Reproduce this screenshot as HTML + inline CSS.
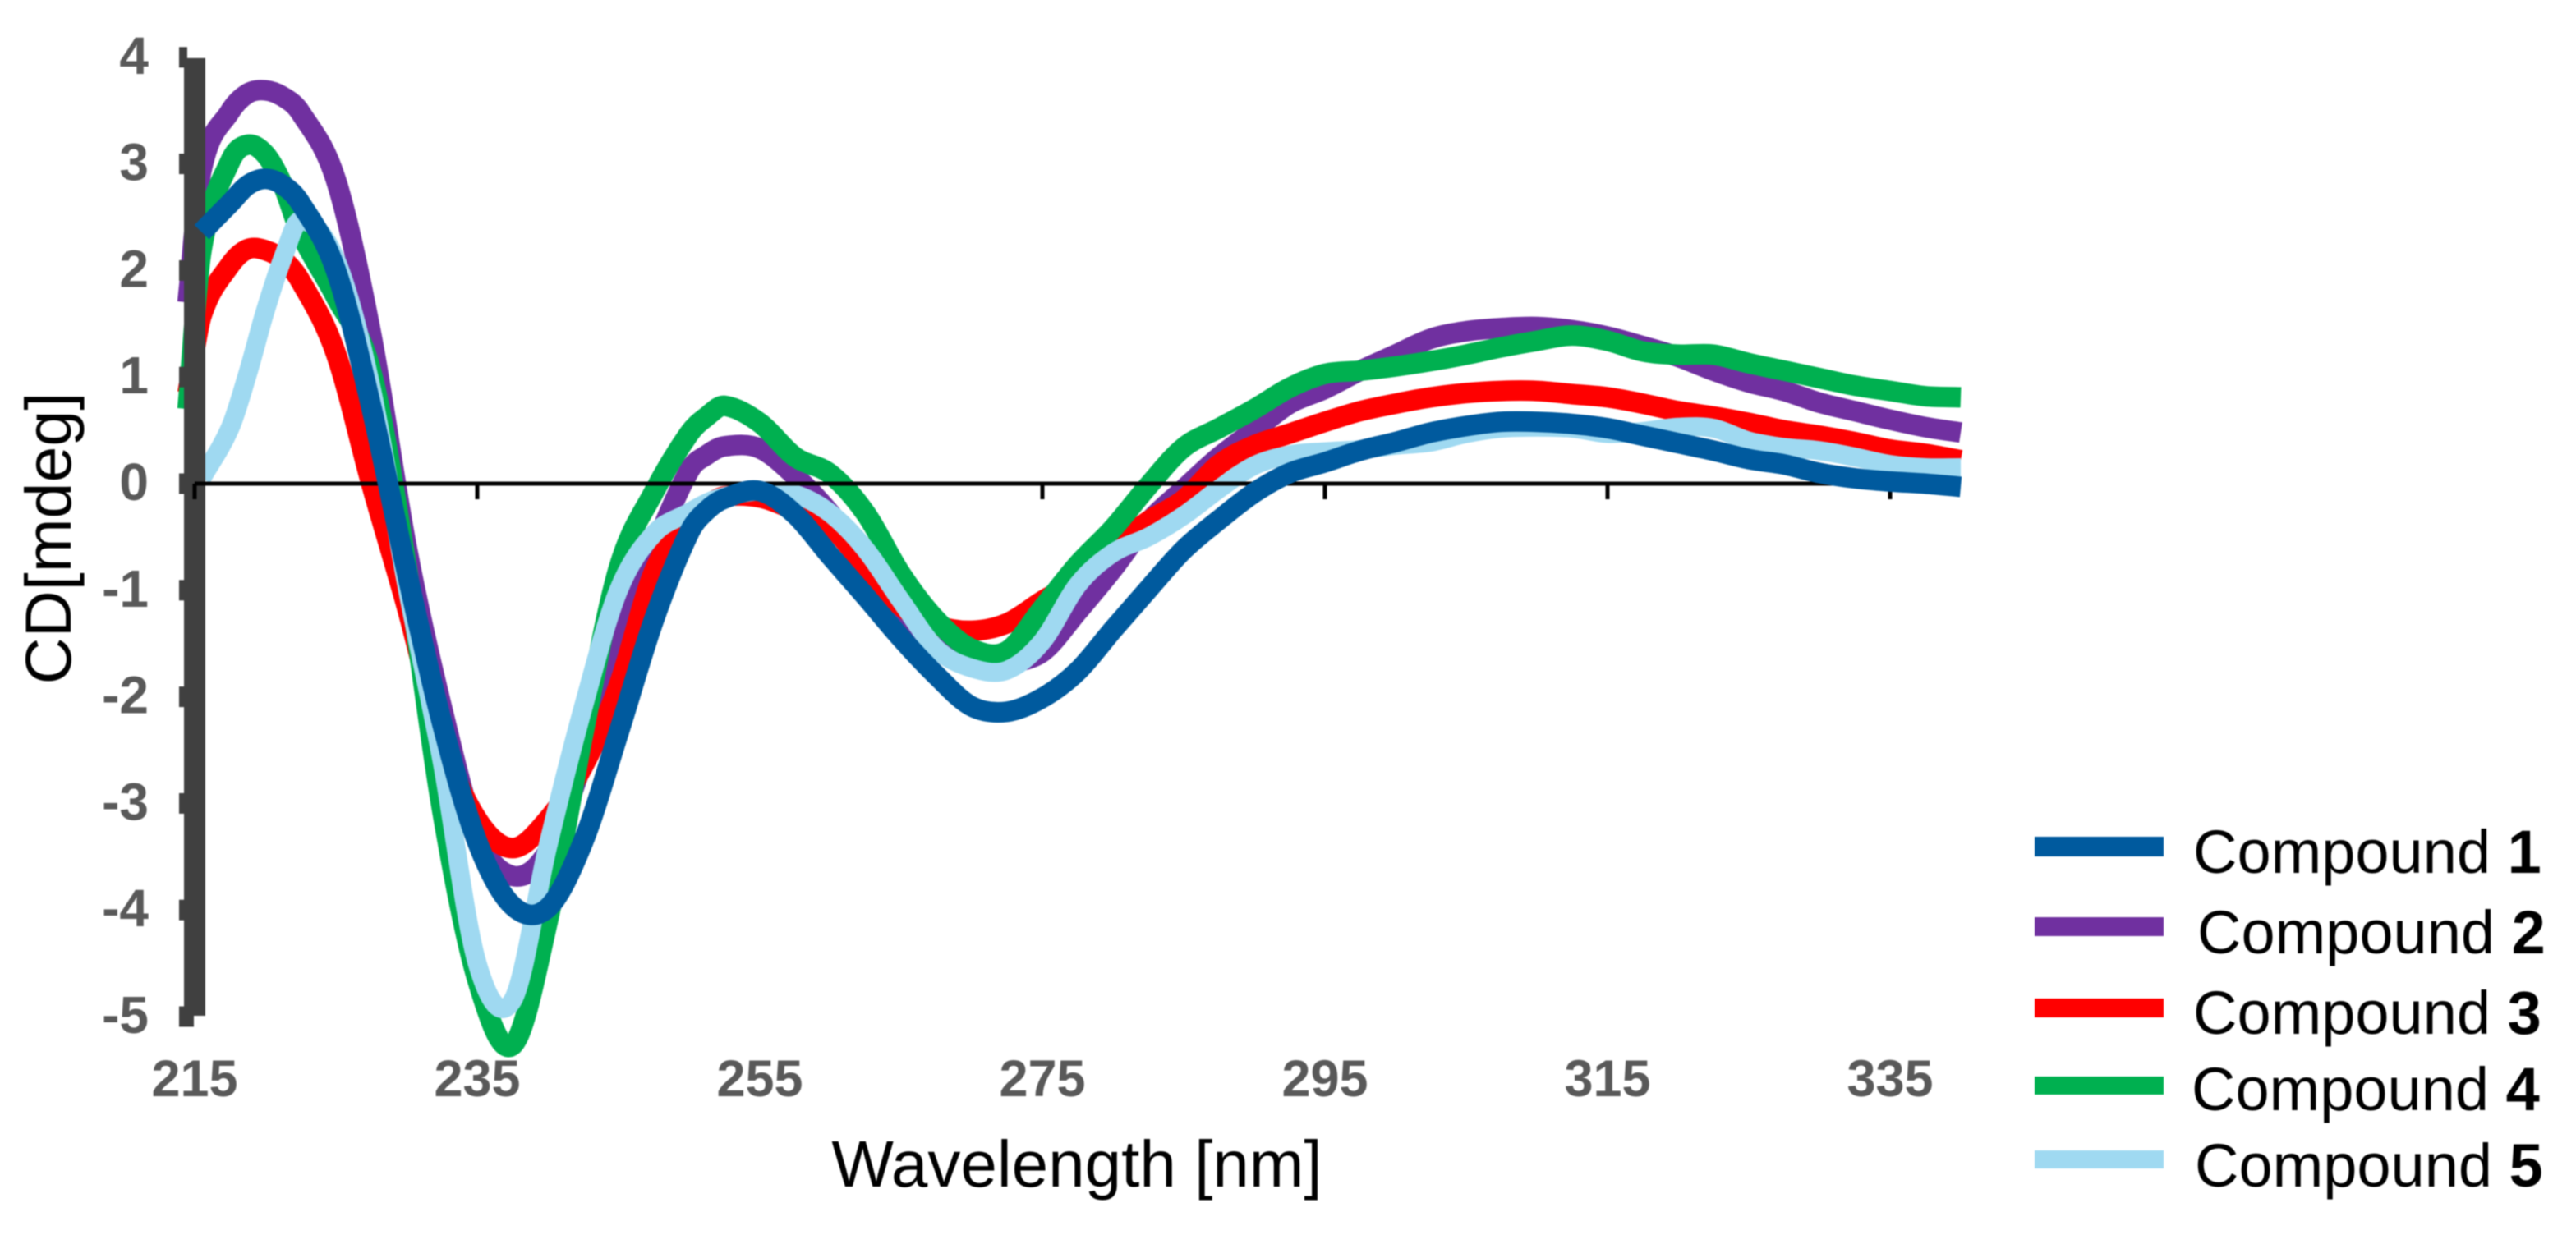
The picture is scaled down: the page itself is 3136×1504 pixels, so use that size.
<!DOCTYPE html>
<html lang="en">
<head>
<meta charset="utf-8">
<title>CD spectra of compounds 1-5</title>
<style>
html,body{margin:0;padding:0;background:#fff;width:3136px;height:1504px;overflow:hidden}
svg{display:block;font-family:"Liberation Sans",Arial,sans-serif;filter:blur(0.7px)}
</style>
</head>
<body>
<svg id="chart" xmlns="http://www.w3.org/2000/svg" width="3136" height="1504" viewBox="0 0 3136 1504">
  <rect x="0" y="0" width="3136" height="1504" fill="#ffffff"/>
  <g id="under-lines"></g>
  <g id="axes"></g>
  <g id="over-lines"></g>
  <text transform="translate(86,655.5) rotate(-90)" text-anchor="middle" font-size="79" fill="#000">CD[mdeg]</text>
  <text x="1311" y="1445" text-anchor="middle" font-size="80" fill="#000">Wavelength [nm]</text>
  <g>
    <g>
      <rect x="2477" y="1019" width="157" height="24" fill="#005A9E"/>
      <text x="2670" y="1063" font-size="74" fill="#000">Compound <tspan font-weight="bold">1</tspan></text>
    </g>
    <g>
      <rect x="2477" y="1117" width="157" height="23" fill="#7030A0"/>
      <text x="2675" y="1161" font-size="74" fill="#000">Compound <tspan font-weight="bold">2</tspan></text>
    </g>
    <g>
      <rect x="2477" y="1216" width="157" height="23" fill="#FF0000"/>
      <text x="2670" y="1259" font-size="74" fill="#000">Compound <tspan font-weight="bold">3</tspan></text>
    </g>
    <g>
      <rect x="2477" y="1311" width="157" height="22" fill="#00B050"/>
      <text x="2668" y="1352" font-size="74" fill="#000">Compound <tspan font-weight="bold">4</tspan></text>
    </g>
    <g>
      <rect x="2477" y="1401" width="157" height="22" fill="#9FD9F1"/>
      <text x="2672" y="1445" font-size="74" fill="#000">Compound <tspan font-weight="bold">5</tspan></text>
    </g>
  </g>
</svg>
<script>
const wavelengths = [214.5,215.5,217.5,218.75,220,221.25,222.5,225,227.5,230,232.5,235,237.5,240,242.5,245,247.5,250,251.25,252.5,255,257.5,260,262.5,265,267.5,270,272.5,275,277.5,280,282.5,285,287.5,290,292.5,295,297.5,300,302.5,305,307.5,310,312.5,315,317.5,320,322.5,325,327.5,330,332.5,335,337.5,340];

const compound1 = [null,2.36,2.63,2.8,2.86,2.8,2.63,2.0,0.72,-0.82,-2.24,-3.36,-3.96,-3.98,-3.36,-2.34,-1.28,-0.46,-0.25,-0.14,-0.07,-0.29,-0.68,-1.06,-1.45,-1.8,-2.09,-2.14,-2.01,-1.76,-1.37,-0.99,-0.62,-0.34,-0.085,0.1,0.2,0.31,0.39,0.48,0.54,0.58,0.58,0.56,0.52,0.45,0.38,0.31,0.23,0.18,0.1,0.05,0.02,0,-0.03];
const compound2 = [1.7,2.95,3.49,3.66,3.69,3.63,3.48,2.85,1.4,-0.59,-2.1,-3.3,-3.68,-3.45,-2.6,-1.55,-0.62,0.12,0.27,0.35,0.33,0.07,-0.28,-0.72,-1.2,-1.52,-1.68,-1.68,-1.58,-1.2,-0.8,-0.36,-0.05,0.25,0.5,0.75,0.89,1.06,1.21,1.36,1.43,1.46,1.47,1.44,1.38,1.29,1.19,1.06,0.95,0.87,0.76,0.68,0.6,0.53,0.48];
const compound3 = [0.85,1.58,2.05,2.2,2.19,2.1,1.9,1.22,0,-1.15,-2.4,-3.15,-3.42,-3.15,-2.65,-1.9,-0.83,-0.3,-0.2,-0.12,-0.13,-0.25,-0.4,-0.78,-1.15,-1.33,-1.38,-1.31,-1.1,-0.9,-0.6,-0.35,-0.15,0.18,0.36,0.47,0.58,0.68,0.75,0.81,0.85,0.87,0.87,0.84,0.81,0.75,0.68,0.63,0.57,0.5,0.45,0.39,0.32,0.28,0.22];
const compound4 = [0.7,2.2,3.02,3.18,3.09,2.8,2.35,1.75,1.05,-0.78,-3.05,-4.65,-5.27,-4.1,-2.35,-0.8,-0.08,0.47,0.63,0.73,0.57,0.25,0.09,-0.28,-0.85,-1.28,-1.55,-1.57,-1.17,-0.76,-0.42,-0.02,0.34,0.52,0.7,0.9,1.03,1.06,1.1,1.15,1.21,1.28,1.34,1.39,1.34,1.24,1.21,1.21,1.13,1.06,0.99,0.92,0.87,0.82,0.81];
const compound5 = [null,0.05,0.52,1.03,1.62,2.12,2.47,2.1,0.9,-0.95,-2.6,-4.5,-4.85,-3.4,-2.1,-1.0,-0.47,-0.27,-0.18,-0.12,-0.07,-0.1,-0.28,-0.62,-1.1,-1.55,-1.73,-1.75,-1.48,-0.95,-0.65,-0.5,-0.3,-0.05,0.17,0.27,0.3,0.32,0.36,0.39,0.47,0.52,0.53,0.52,0.47,0.49,0.53,0.52,0.4,0.34,0.31,0.25,0.18,0.15,0.15];

const xTickValues = [215,235,255,275,295,315,335];
const yTickValues = [4,3,2,1,0,-1,-2,-3,-4,-5];
const xAxisEnd = 340;

const NS = 'http://www.w3.org/2000/svg';

function xScale(w) { return 237 + (w - 215) * 17.2; }
function yScale(v) { return 589 - v * 129.8; }

function linePath(xs, ys) {
  const pts = [];
  for (let i = 0; i < xs.length; i++) {
    if (ys[i] !== null) pts.push([xScale(xs[i]), yScale(ys[i])]);
  }
  const slope = [];
  for (let i = 0; i < pts.length; i++) {
    const a = pts[Math.max(i - 1, 0)];
    const b = pts[Math.min(i + 1, pts.length - 1)];
    slope.push((b[1] - a[1]) / (b[0] - a[0]));
  }
  let d = 'M' + pts[0][0].toFixed(1) + ' ' + pts[0][1].toFixed(1);
  for (let i = 0; i < pts.length - 1; i++) {
    const h = (pts[i + 1][0] - pts[i][0]) / 3;
    d += 'C' + (pts[i][0] + h).toFixed(1) + ' ' + (pts[i][1] + slope[i] * h).toFixed(1) + ' ' +
         (pts[i + 1][0] - h).toFixed(1) + ' ' + (pts[i + 1][1] - slope[i + 1] * h).toFixed(1) + ' ' +
         pts[i + 1][0].toFixed(1) + ' ' + pts[i + 1][1].toFixed(1);
  }
  return d;
}

function drawSeries(parent, values, color, width) {
  const p = document.createElementNS(NS, 'path');
  p.setAttribute('d', linePath(wavelengths, values));
  p.setAttribute('fill', 'none');
  p.setAttribute('stroke', color);
  p.setAttribute('stroke-width', width);
  p.setAttribute('stroke-linejoin', 'round');
  parent.appendChild(p);
  return p;
}

const under = document.getElementById('under-lines');
const over = document.getElementById('over-lines');
const axes = document.getElementById('axes');

const line2 = drawSeries(under, compound2, '#7030A0', 25);


const line3 = drawSeries(under, compound3, '#FF0000', 25);


const line4 = drawSeries(under, compound4, '#00B050', 25);


const line5 = drawSeries(under, compound5, '#9FD9F1', 23);


const line1 = drawSeries(over, compound1, '#005A9E', 25);



function addRect(x, y, w, h, fill) {
  const r = document.createElementNS(NS, 'rect');
  r.setAttribute('x', x);
  r.setAttribute('y', y);
  r.setAttribute('width', w);
  r.setAttribute('height', h);
  r.setAttribute('fill', fill);
  axes.appendChild(r);
  return r;
}

const yBar = addRect(224, yScale(4) + 1, 26, yScale(-5) - yScale(4) - 2, '#404040');



for (const v of yTickValues) {
  const wide = v === -5 ? 18 : 10;
  const tick = addRect(218, yScale(v) - 12.5, wide, 25, '#404040');
  
  
  const label = document.createElementNS(NS, 'text');
  label.setAttribute('x', 181);
  label.setAttribute('y', yScale(v) + 20);
  label.setAttribute('text-anchor', 'end');
  label.setAttribute('font-size', '64');
  label.setAttribute('font-weight', 'bold');
  label.setAttribute('fill', '#595959');
  
  
  label.textContent = String(v);
  axes.appendChild(label);
}

const xLine = addRect(xScale(215), yScale(0) - 2.5, xScale(xAxisEnd) - xScale(215), 5, '#000000');



for (const t of xTickValues) {
  const tick = addRect(xScale(t) - 2.5, yScale(0), 5, 19, '#000000');
  
  
  const label = document.createElementNS(NS, 'text');
  label.setAttribute('x', xScale(t));
  label.setAttribute('y', 1335);
  label.setAttribute('text-anchor', 'middle');
  label.setAttribute('font-size', '63');
  label.setAttribute('font-weight', 'bold');
  label.setAttribute('fill', '#595959');
  
  
  label.textContent = String(t);
  axes.appendChild(label);
}
</script>
</body>
</html>
